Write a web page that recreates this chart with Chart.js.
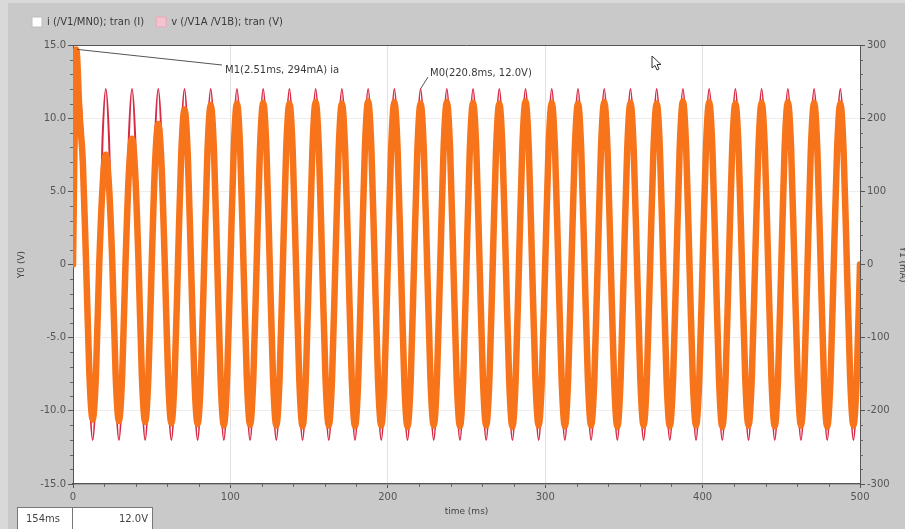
<!DOCTYPE html>
<html><head><meta charset="utf-8">
<script src="https://cdn.jsdelivr.net/npm/chart.js@4.4.0/dist/chart.umd.min.js"></script>
<style>
html,body{margin:0;padding:0;background:#c9c9c9;}
#wrap{width:905px;height:529px;position:relative;}
</style>
</head><body><div id="wrap"><canvas id="c"></canvas></div>
<script>
// ---- data ----
const timeStepMs = 500 / 240;          // sample spacing of both traces (ms)
// v (/V1A /V1B) in volts, 8 samples per 60 Hz cycle
const voltageV = [
  0,8.5,12,8.5,0,-8.5,-12,-8.5, 0,8.5,12,8.5,0,-8.5,-12,-8.5, 0,8.5,12,8.5,0,-8.5,-12,-8.5, 0,8.5,12,8.5,0,-8.5,-12,-8.5, 0,8.5,12,8.5,0,-8.5,-12,-8.5,
  0,8.5,12,8.5,0,-8.5,-12,-8.5, 0,8.5,12,8.5,0,-8.5,-12,-8.5, 0,8.5,12,8.5,0,-8.5,-12,-8.5, 0,8.5,12,8.5,0,-8.5,-12,-8.5, 0,8.5,12,8.5,0,-8.5,-12,-8.5,
  0,8.5,12,8.5,0,-8.5,-12,-8.5, 0,8.5,12,8.5,0,-8.5,-12,-8.5, 0,8.5,12,8.5,0,-8.5,-12,-8.5, 0,8.5,12,8.5,0,-8.5,-12,-8.5, 0,8.5,12,8.5,0,-8.5,-12,-8.5,
  0,8.5,12,8.5,0,-8.5,-12,-8.5, 0,8.5,12,8.5,0,-8.5,-12,-8.5, 0,8.5,12,8.5,0,-8.5,-12,-8.5, 0,8.5,12,8.5,0,-8.5,-12,-8.5, 0,8.5,12,8.5,0,-8.5,-12,-8.5,
  0,8.5,12,8.5,0,-8.5,-12,-8.5, 0,8.5,12,8.5,0,-8.5,-12,-8.5, 0,8.5,12,8.5,0,-8.5,-12,-8.5, 0,8.5,12,8.5,0,-8.5,-12,-8.5, 0,8.5,12,8.5,0,-8.5,-12,-8.5,
  0,8.5,12,8.5,0,-8.5,-12,-8.5, 0,8.5,12,8.5,0,-8.5,-12,-8.5, 0,8.5,12,8.5,0,-8.5,-12,-8.5, 0,8.5,12,8.5,0,-8.5,-12,-8.5, 0,8.5,12,8.5,0,-8.5,-12,-8.5,
  0
];
// i (/V1/MN0) in mA, same sampling
const currentMA = [
  0,294,205,140,0,-150,-212,-150, 0,105,150,105,0,-151,-214,-151, 0,122,172,122,0,-152,-215,-152, 0,136,192,136,0,-153,-217,-153, 0,150,212,150,0,-154,-218,-154,
  0,154,218,154,0,-155,-220,-155, 0,155,220,155,0,-154,-219,-154, 0,156,221,156,0,-155,-220,-155, 0,155,220,155,0,-156,-221,-156, 0,156,222,156,0,-155,-220,-155,
  0,155,220,155,0,-156,-221,-156, 0,157,223,157,0,-155,-220,-155, 0,156,222,156,0,-156,-222,-156, 0,155,220,155,0,-155,-220,-155, 0,157,222,157,0,-156,-221,-156,
  0,156,221,156,0,-155,-220,-155, 0,155,220,155,0,-156,-222,-156, 0,157,223,157,0,-155,-220,-155, 0,156,221,156,0,-156,-221,-156, 0,155,220,155,0,-155,-220,-155,
  0,157,222,157,0,-156,-222,-156, 0,156,221,156,0,-155,-220,-155, 0,155,220,155,0,-156,-221,-156, 0,157,223,157,0,-155,-220,-155, 0,156,222,156,0,-156,-222,-156,
  0,155,220,155,0,-155,-220,-155, 0,156,221,156,0,-156,-221,-156, 0,157,222,157,0,-155,-220,-155, 0,156,221,156,0,-156,-222,-156, 0,155,220,155,0,-155,-220,-155,
  0
];
const seriesLabels = ['i (/V1/MN0); tran (I)', 'v (/V1A /V1B); tran (V)'];
const legendSwatches = ['#ffffff', '#f3c4cf'];
const markerNames = ['M1', 'M0'];
const markerTimesMs = [2.51, 220.8];
const markerValues = [294, 12.0];
const markerTexts = ['M1(2.51ms, 294mA) ia', 'M0(220.8ms, 12.0V)'];
const readoutTexts = ['154ms', '12.0V'];
const axisTitles = ['time (ms)', 'Y0 (V)', 'Y1 (mA)'];

// ---- build library data ----
const vPoints = voltageV.map((v, i) => ({x: i * timeStepMs, y: v}));
const iPoints = currentMA.map((v, i) => ({x: i * timeStepMs, y: v}));
const FONT = 'DejaVu Sans';

const scene = {
  id: 'scene',
  beforeDraw(chart) {
    const {ctx, chartArea: ca, width, height} = chart;
    ctx.save();
    ctx.fillStyle = '#c9c9c9';
    ctx.fillRect(0, 0, width, height);
    ctx.fillStyle = '#d9d9d9';
    ctx.fillRect(0, 0, 8, height);
    ctx.fillRect(0, 0, width, 3);
    ctx.fillStyle = '#ffffff';
    ctx.fillRect(ca.left, ca.top, ca.right - ca.left, ca.bottom - ca.top);
    ctx.restore();
  },
  afterDraw(chart) {
    const {ctx, chartArea: ca} = chart;
    const xs = chart.scales.x, ys = chart.scales.y, y1 = chart.scales.y1;
    ctx.save();
    ctx.strokeStyle = '#555';
    ctx.lineWidth = 1;
    ctx.beginPath();
    ctx.moveTo(ca.left, ca.top + 0.5); ctx.lineTo(ca.right, ca.top + 0.5);
    ctx.stroke();
    ctx.strokeStyle = '#666';
    ctx.beginPath();
    for (let v = -15; v <= 15; v += 1) {
      if (v % 5 === 0) continue;
      const p = Math.round(ys.getPixelForValue(v)) + 0.5;
      ctx.moveTo(ca.left - 3, p); ctx.lineTo(ca.left, p);
    }
    for (let v = -300; v <= 300; v += 20) {
      if (v % 100 === 0) continue;
      const p = Math.round(y1.getPixelForValue(v)) + 0.5;
      ctx.moveTo(ca.right, p); ctx.lineTo(ca.right + 3, p);
    }
    for (let v = 0; v <= 500; v += 20) {
      if (v % 100 === 0) continue;
      const p = Math.round(xs.getPixelForValue(v)) + 0.5;
      ctx.moveTo(p, ca.bottom); ctx.lineTo(p, ca.bottom + 3);
    }
    ctx.stroke();
    ctx.font = '10px "' + FONT + '"';
    ctx.textBaseline = 'middle';
    ctx.fillStyle = '#3a3a3a';
    ctx.strokeStyle = '#555';
    const scalesFor = [y1, ys];
    const labelAnchors = [[222, 65, 225, 70], [428, 77, 430, 73]];
    markerNames.forEach((n, i) => {
      const px = xs.getPixelForValue(markerTimesMs[i]);
      const py = Math.max(ca.top + 1, scalesFor[i].getPixelForValue(markerValues[i]));
      const a = labelAnchors[i];
      ctx.beginPath();
      ctx.moveTo(px, py); ctx.lineTo(a[0], a[1]);
      ctx.stroke();
      ctx.fillText(markerTexts[i], a[2], a[3]);
    });
    ctx.fillStyle = '#ffffff';
    ctx.fillRect(17, 507, 136, 22);
    ctx.strokeStyle = '#777';
    ctx.strokeRect(17.5, 507.5, 135, 22);
    ctx.beginPath(); ctx.moveTo(72.5, 507); ctx.lineTo(72.5, 529); ctx.stroke();
    ctx.fillStyle = '#444';
    ctx.textAlign = 'left';
    ctx.fillText(readoutTexts[0], 26, 519);
    ctx.textAlign = 'right';
    ctx.fillText(readoutTexts[1], 148, 519);
    ctx.translate(652, 56);
    ctx.beginPath();
    ctx.moveTo(0, 0); ctx.lineTo(0, 12); ctx.lineTo(3, 9.5); ctx.lineTo(5, 14);
    ctx.lineTo(7, 13); ctx.lineTo(5, 8.5); ctx.lineTo(9, 8.5); ctx.closePath();
    ctx.fillStyle = '#ffffff'; ctx.fill();
    ctx.strokeStyle = '#333'; ctx.lineWidth = 1; ctx.stroke();
    ctx.restore();
  }
};

const tickFont = {family: FONT, size: 10};
new Chart(document.getElementById('c'), {
  type: 'line',
  data: {
    datasets: [
      {label: seriesLabels[0], data: iPoints, yAxisID: 'y1', borderColor: '#f8741a', borderWidth: 6.5,
       borderJoinStyle: 'round', borderCapStyle: 'round',
       pointRadius: 0, fill: false, cubicInterpolationMode: 'monotone'},
      {label: seriesLabels[1], data: vPoints, yAxisID: 'y', borderColor: '#d82a45', borderWidth: 2,
       pointRadius: 0, fill: false, cubicInterpolationMode: 'monotone'}
    ]
  },
  options: {
    responsive: true, maintainAspectRatio: false, animation: false, devicePixelRatio: 1,
    layout: {padding: {left: 20, top: 5, right: 0, bottom: 0}},
    plugins: {
      legend: {display: true, position: 'top', align: 'start',
        labels: {boxWidth: 10, boxHeight: 10, padding: 12, color: '#3a3a3a', font: {family: FONT, size: 10},
          generateLabels: () => seriesLabels.map((t, i) => ({text: t, fillStyle: legendSwatches[i],
            strokeStyle: i ? '#e7a9b8' : '#bdbdbd', lineWidth: 1, hidden: false, datasetIndex: i, fontColor: '#3a3a3a'}))}},
      subtitle: {display: true, text: '', weight: 500, padding: 0, font: {size: 8, lineHeight: 1}},
      tooltip: {enabled: false}
    },
    scales: {
      x: {type: 'linear', position: 'bottom', min: 0, max: 500,
        afterFit: s => { s.height = 45; },
        ticks: {stepSize: 100, padding: 3, color: '#555', font: tickFont, maxRotation: 0, autoSkip: false},
        grid: {color: '#e2e2e2', tickColor: '#555', tickLength: 4},
        border: {color: '#555', width: 1.5},
        title: {display: true, text: axisTitles[0], color: '#444', font: {family: FONT, size: 9}, padding: {top: 0, bottom: 12}}},
      y: {type: 'linear', position: 'left', min: -15, max: 15,
        afterFit: s => { s.width = 53; },
        ticks: {stepSize: 5, padding: 2, color: '#555', font: tickFont, autoSkip: false,
          callback: v => v === 0 ? '0' : v.toFixed(1)},
        grid: {color: '#ededed', tickColor: '#555', tickLength: 5},
        border: {color: '#555', width: 1},
        title: {display: true, text: axisTitles[1], color: '#444', font: {family: FONT, size: 9}, padding: {top: -4, bottom: 0}}},
      y1: {type: 'linear', position: 'right', min: -300, max: 300,
        afterFit: s => { s.width = 45; },
        ticks: {stepSize: 100, padding: 2, color: '#555', font: tickFont, autoSkip: false},
        grid: {drawOnChartArea: false, tickColor: '#555', tickLength: 5},
        border: {color: '#555', width: 1},
        title: {display: true, text: axisTitles[2], color: '#444', font: {family: FONT, size: 9}, padding: {top: -3, bottom: 0}}}
    }
  },
  plugins: [scene]
});
</script>
</body></html>
